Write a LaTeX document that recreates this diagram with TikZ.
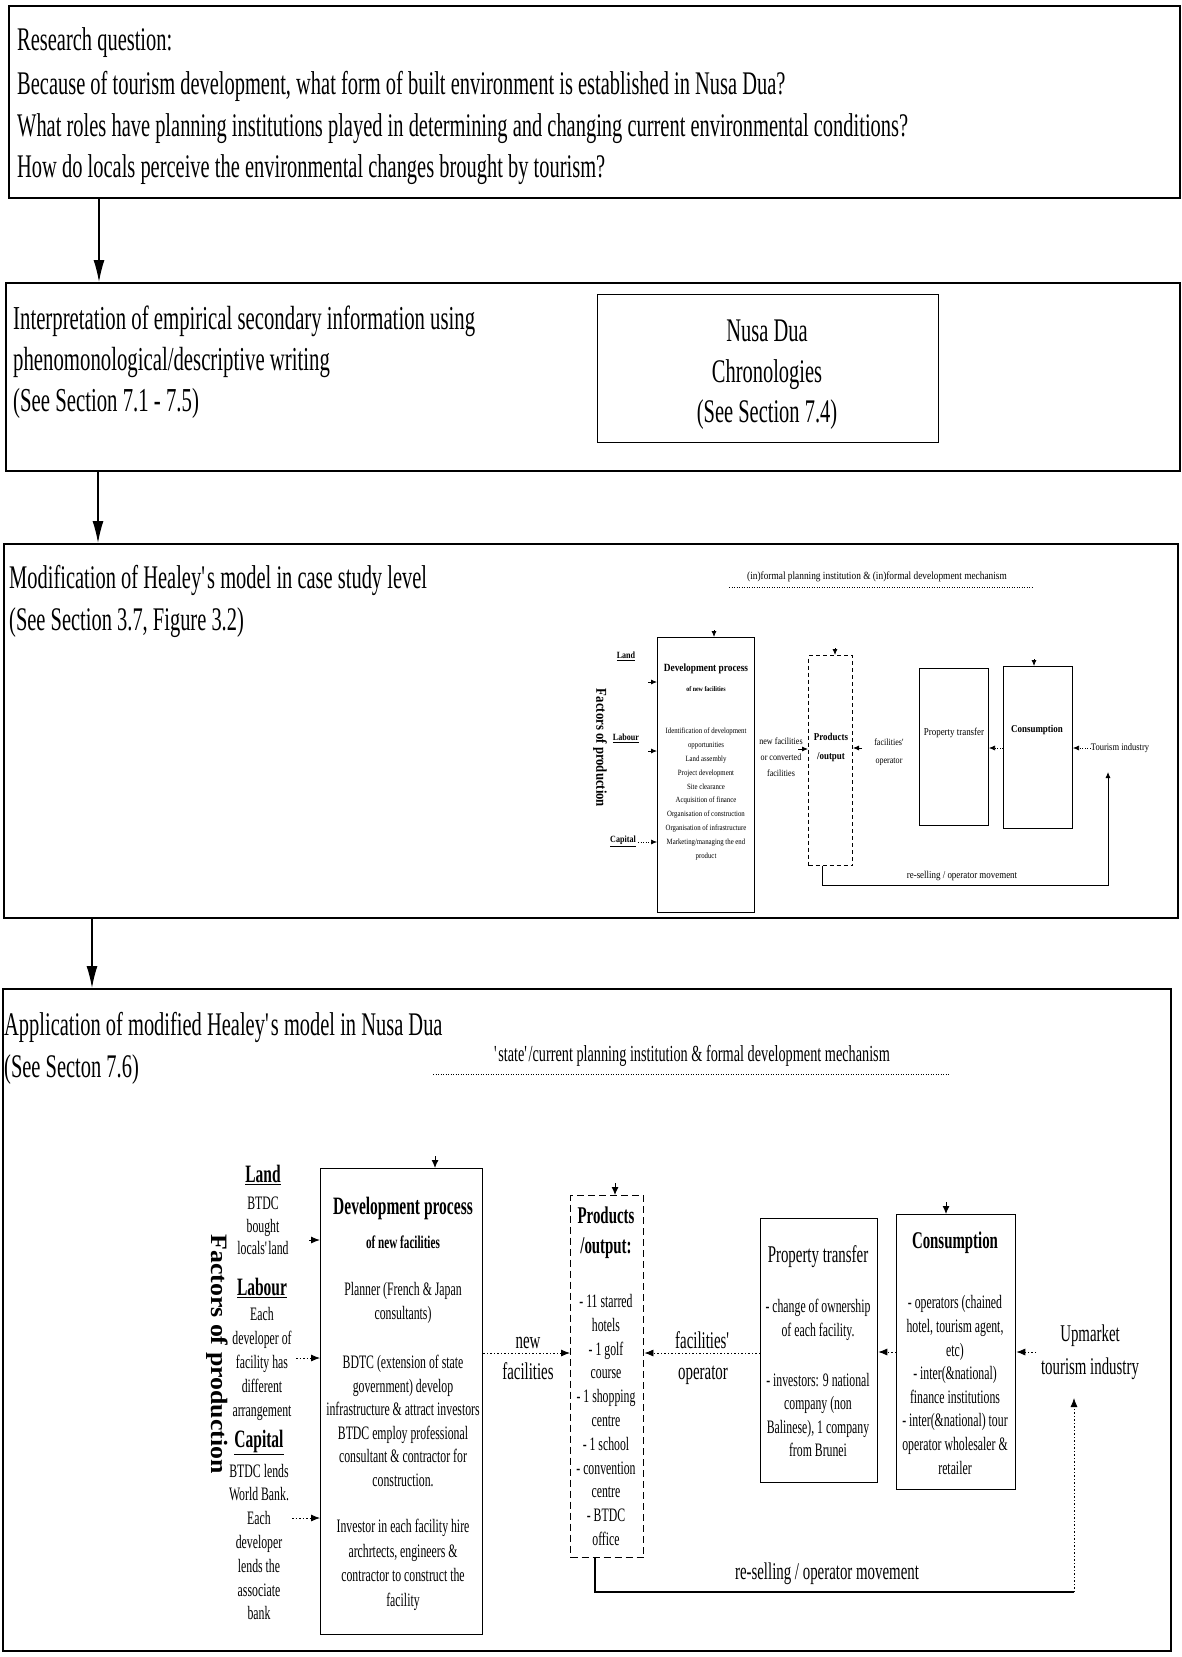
\documentclass[tikz,border=0pt]{standalone}
\usepackage{fontspec}
\setmainfont{Liberation Serif}[FakeStretch=0.62]
\newfontfamily\minifont{Liberation Serif}[FakeStretch=0.85]
\newfontfamily\rotfont{Liberation Serif}[FakeStretch=1.1]
\usetikzlibrary{arrows.meta}
\newcommand\myfs[2]{\fontsize{#1}{#2}\selectfont}
\tikzset{
 frame/.style={draw, line width=1.8pt, inner sep=0pt, anchor=north west},
 box/.style={draw, line width=1.3pt, inner sep=0pt, anchor=north west},
 dbox/.style={draw, line width=1.4pt, dash pattern=on 7pt off 4pt, inner sep=0pt, anchor=north west},
 mbox/.style={draw, line width=1pt, inner sep=0pt, anchor=north west},
 mdbox/.style={draw, line width=1pt, dash pattern=on 4pt off 3pt, inner sep=0pt, anchor=north west},
 big/.style={inner sep=0pt, anchor=base west, font=\myfs{33}{41}},
 bigc/.style={inner sep=0pt, anchor=base, font=\myfs{33}{41}},
 t19/.style={inner sep=0pt, align=center, font=\myfs{19}{23.8}},
 t24/.style={inner sep=0pt, align=center, font=\myfs{24}{31}},
 b25/.style={inner sep=0pt, align=center, font=\myfs{25}{30}\bfseries},
 mt/.style={inner sep=0pt, align=center, font=\minifont\myfs{10}{15}},
 bigarr/.style={-{Latex[length=22pt,width=11pt]}, line width=1.2pt},
 sarr/.style={-{Latex[length=9pt,width=7pt]}, line width=1pt},
 sdarr/.style={-{Latex[length=9pt,width=7pt]}, line width=0.8pt, dash pattern=on 1.5pt off 2pt},
 sline/.style={line width=1.3pt},
 tarr/.style={-{Latex[length=8pt,width=7pt]}, line width=1pt},
 marr/.style={-{Latex[length=6pt,width=5pt]}, line width=0.8pt},
 mdarr/.style={-{Latex[length=6pt,width=5pt]}, line width=0.6pt, dash pattern=on 1pt off 1.5pt},
 hdot/.style={line width=0.7pt, dash pattern=on 1pt off 1.5pt},
}
\begin{document}
\begin{tikzpicture}[x=1pt,y=-1pt]
\useasboundingbox (0,0) rectangle (1181,1657);
\fill[white] (0,0) rectangle (1181,1657);

% ---------- frames ----------
\node[frame, minimum width=1171pt, minimum height=192pt] (f1) at (8,5) {};
\node[frame, minimum width=1174pt, minimum height=188pt] (f2) at (5,282) {};
\node[frame, minimum width=1174pt, minimum height=374pt] (f3) at (3,543) {};
\node[frame, minimum width=1168pt, minimum height=662pt] (f4) at (2,988) {};

\draw[bigarr] ([xshift=91pt]f1.south west) -- ([xshift=94pt]f2.north west);
\draw[bigarr] ([xshift=93pt]f2.south west) -- ([xshift=95pt]f3.north west);
\draw[bigarr] ([xshift=89pt]f3.south west) -- ([xshift=90pt]f4.north west);

% ---------- box 1 ----------
\node[big] (q0) at (17,50) {Research question:};
\node[big] (q1) at (17,94) {Because of tourism development, what form of built environment is established in Nusa Dua?};
\node[big] (q2) at (17,136) {What roles have planning institutions played in determining and changing current environmental conditions?};
\node[big] (q3) at (17,177) {How do locals perceive the environmental changes brought by tourism?};

% ---------- box 2 ----------
\node[big, font=\myfs{33.5}{41}] (i0) at (13,329) {Interpretation of empirical secondary information using};
\node[big, font=\myfs{33.5}{41}] (i1) at (13,370) {phenomonological/descriptive writing};
\node[big, font=\myfs{33.5}{41}] (i2) at (13,411) {(See Section 7.1 - 7.5)};
\node[box, minimum width=341pt, minimum height=148pt] (nd) at (597,294) {};
\node[bigc] (nd0) at (767,341) {Nusa Dua};
\node[bigc] (nd1) at (767,382) {Chronologies};
\node[bigc] (nd2) at (767,422) {(See Section 7.4)};

% ---------- box 3 ----------
\node[big] (m0) at (9,588) {Modification of Healey\textquotesingle s model in case study level};
\node[big] (m1) at (9,630) {(See Section 3.7, Figure 3.2)};

% mini diagram
\node[mt, font=\minifont\myfs{11}{13}] (mhead) at (877,577) {(in)formal planning institution \& (in)formal development mechanism};
\draw[hdot] (729,587) -- (1034,587);
\node[inner sep=0pt, rotate=-90, font=\minifont\myfs{15}{18}\bfseries] (mfac) at (600,748) {Factors of production};
\node[mt, font=\minifont\myfs{9.5}{12}\bfseries] (mland) at (626,656) {\underline{Land}};
\node[mt, font=\minifont\myfs{9.5}{12}\bfseries] (mlab) at (626,738) {\underline{Labour}};
\node[mt, font=\minifont\myfs{9.5}{12}\bfseries] (mcap) at (623,841) {\underline{Capital}};

\node[mbox, minimum width=97pt, minimum height=275pt] (mdev) at (657,637) {};
\node[mt, font=\minifont\myfs{11}{13}\bfseries] (mdv0) at (706,669) {Development process};
\node[mt, font=\minifont\myfs{7}{9}\bfseries] (mdv1) at (706,689) {of new facilities};
\node[mt, font=\minifont\myfs{8}{13.9}] (mdv2) at (706,794) {Identification of development\\opportunities\\Land assembly\\Project development\\Site clearance\\Acquisition of finance\\Organisation of construction\\Organisation of infrastructure\\Marketing/managing the end\\product};

\node[mdbox, minimum width=44pt, minimum height=210pt] (mprod) at (808,655) {};
\node[mt, font=\minifont\myfs{10.5}{19}\bfseries] (mpr) at (831,747) {Products\\/output};
\node[mt, font=\minifont\myfs{9.5}{16}] (mnf) at (781,757) {new facilities\\or converted\\facilities};
\node[mt, font=\minifont\myfs{9.5}{18}] (mfo) at (889,752) {facilities\textquotesingle\\operator};

\node[mbox, minimum width=69pt, minimum height=157pt] (mprop) at (919,668) {};
\node[mt, font=\minifont\myfs{10.5}{13}] (mpt) at (954,733) {Property transfer};
\node[mbox, minimum width=69pt, minimum height=162pt] (mcons) at (1003,666) {};
\node[mt, font=\minifont\myfs{10.5}{13}\bfseries] (mcs) at (1037,730) {Consumption};
\node[mt, font=\minifont\myfs{10}{13}] (mti) at (1120,748) {Tourism industry};
\node[mt, font=\minifont\myfs{10.5}{13}] (mrs) at (962,876) {re-selling / operator movement};

\coordinate (mlandc) at (648,682);
\coordinate (mlabc) at (648,751);
\coordinate (mcapc) at (638,842);
\draw[marr] (mlandc) -- (mlandc -| mdev.west);
\draw[marr] (mlabc) -- (mlabc -| mdev.west);
\draw[mdarr] (mcapc) -- (mcapc -| mdev.west);
\coordinate (mnfc) at (798,749);
\draw[marr] (mnfc) -- (mnfc -| mprod.west);
\coordinate (mfoc) at (862,748);
\draw[marr] (mfoc) -- (mfoc -| mprod.east);
\coordinate (mcy) at (0,748);
\draw[mdarr] (mcons.west |- mcy) -- (mprop.east |- mcy);
\draw[mdarr] (mti.west) -- (mcons.east |- mti.west);
\coordinate (mrsa) at (822,885);
\coordinate (mrsb) at (1108,885);
\coordinate (mtb) at (1108,772);
\draw[marr] (mprod.south -| mrsa) -- (mrsa) -- (mrsb) -- (mtb);
\coordinate (mdvt) at (714,630);
\coordinate (mpdt) at (835,648);
\coordinate (mcst) at (1034,659);
\draw[marr] (mdvt) -- (mdvt |- mdev.north);
\draw[marr] (mpdt) -- (mpdt |- mprod.north);
\draw[marr] (mcst) -- (mcst |- mcons.north);

% ---------- box 4 ----------
\node[big] (a0) at (4,1035) {Application of modified Healey\textquotesingle s model in Nusa Dua};
\node[big] (a1) at (4,1077) {(See Secton 7.6)};
\node[inner sep=0pt, font=\myfs{23}{28}] (shead) at (692,1056) {\textquotesingle state\textquotesingle/current planning institution \& formal development mechanism};
\draw[hdot] (433,1074) -- (949,1074);

\node[inner sep=0pt, rotate=-90, font=\rotfont\myfs{23.5}{28}\bfseries] (fac) at (217,1354) {Factors of production};
\node[b25] (land) at (263,1175) {\underline{Land}};
\node[t19, font=\myfs{19}{22.5}] (landt) at (263,1226) {BTDC\\bought\\locals\textquotesingle land};
\node[b25] (lab) at (262,1288) {\underline{Labour}};
\node[t19, font=\myfs{19}{24.2}] (labt) at (262,1364) {Each\\developer of\\facility has\\different\\arrangement};
\node[b25] (cap) at (259,1442) {\underline{Capital}};
\node[t19] (capt) at (259,1542) {BTDC lends\\World Bank.\\Each\\developer\\lends the\\associate\\bank};

\node[box, minimum width=162pt, minimum height=466pt] (dev) at (320,1168) {};
\node[b25] (dv0) at (403,1208) {Development process};
\node[t19, font=\myfs{18}{22}\bfseries] (dv1) at (403,1242) {of new facilities};
\node[t19] (dv2) at (403,1303) {Planner (French \& Japan\\consultants)};
\node[t19, font=\myfs{19}{23.6}] (dv3) at (403,1421) {BDTC (extension of state\\government) develop\\infrastructure \& attract investors\\BTDC employ professional\\consultant \& contractor for\\construction.};
\node[t19, font=\myfs{19}{24.6}] (dv4) at (403,1565) {Investor in each facility hire\\archrtects, engineers \&\\contractor to construct the\\facility};

\node[dbox, minimum width=73pt, minimum height=362pt] (prod) at (570,1195) {};
\node[t24, font=\myfs{24}{30}\bfseries] (pr0) at (606,1233) {Products\\/output:};
\node[t19] (pr1) at (606,1420) {- 11 starred\\hotels\\- 1 golf\\course\\- 1 shopping\\centre\\- 1 school\\- convention\\centre\\- BTDC\\office};

\node[t24] (nf) at (528,1358) {new\\facilities};
\node[t24] (fo) at (703,1358) {facilities\textquotesingle\\operator};

\node[box, minimum width=117pt, minimum height=264pt] (prop) at (760,1218) {};
\node[t24] (pt0) at (818,1257) {Property transfer};
\node[t19] (pt1) at (818,1320) {- change of ownership\\of each facility.};
\node[t19, font=\myfs{19}{23.3}] (pt2) at (818,1415) {- investors: 9 national\\company (non\\Balinese), 1 company\\from Brunei};

\node[box, minimum width=119pt, minimum height=275pt] (cons) at (896,1214) {};
\node[t24, font=\myfs{24}{30}\bfseries] (cs0) at (955,1243) {Consumption};
\node[t19, font=\myfs{19}{23.6}] (cs1) at (955,1385) {- operators (chained\\hotel, tourism agent,\\etc)\\- inter(\&national)\\finance institutions\\- inter(\&national) tour\\operator wholesaler \&\\retailer};

\node[t24, font=\myfs{24}{33}] (um) at (1090,1352) {Upmarket\\tourism industry};
\node[t24] (rs) at (827,1574) {re-selling / operator movement};

% connectors
\coordinate (landc) at (309,1240);
\coordinate (labc) at (296,1358);
\coordinate (capc) at (292,1518);
\draw[sarr] (landc) -- (landc -| dev.west);
\draw[sdarr] (labc) -- (labc -| dev.west);
\draw[sdarr] (capc) -- (capc -| dev.west);
\coordinate (nfy) at (0,1353);
\draw[sdarr] (dev.east |- nfy) -- (prod.west |- nfy);
\draw[sdarr] (prop.west |- nfy) -- (prod.east |- nfy);
\coordinate (cy) at (0,1352);
\draw[sdarr] (cons.west |- cy) -- (prop.east |- cy);
\coordinate (umc) at (1036,1352);
\draw[sdarr] (umc) -- (cons.east |- umc);
\coordinate (rsa) at (595,1592);
\coordinate (rsb) at (1074,1592);
\coordinate (umb) at (1074,1398);
\draw[sline] (prod.south -| rsa) -- (rsa) -- (rsb);
\draw[sdarr] (rsb) -- (umb);
\coordinate (dvt) at (435,1156);
\coordinate (pdt) at (615,1183);
\coordinate (cst) at (946,1202);
\draw[tarr] (dvt) -- (dvt |- dev.north);
\draw[tarr] (pdt) -- (pdt |- prod.north);
\draw[tarr] (cst) -- (cst |- cons.north);
\end{tikzpicture}
\end{document}
